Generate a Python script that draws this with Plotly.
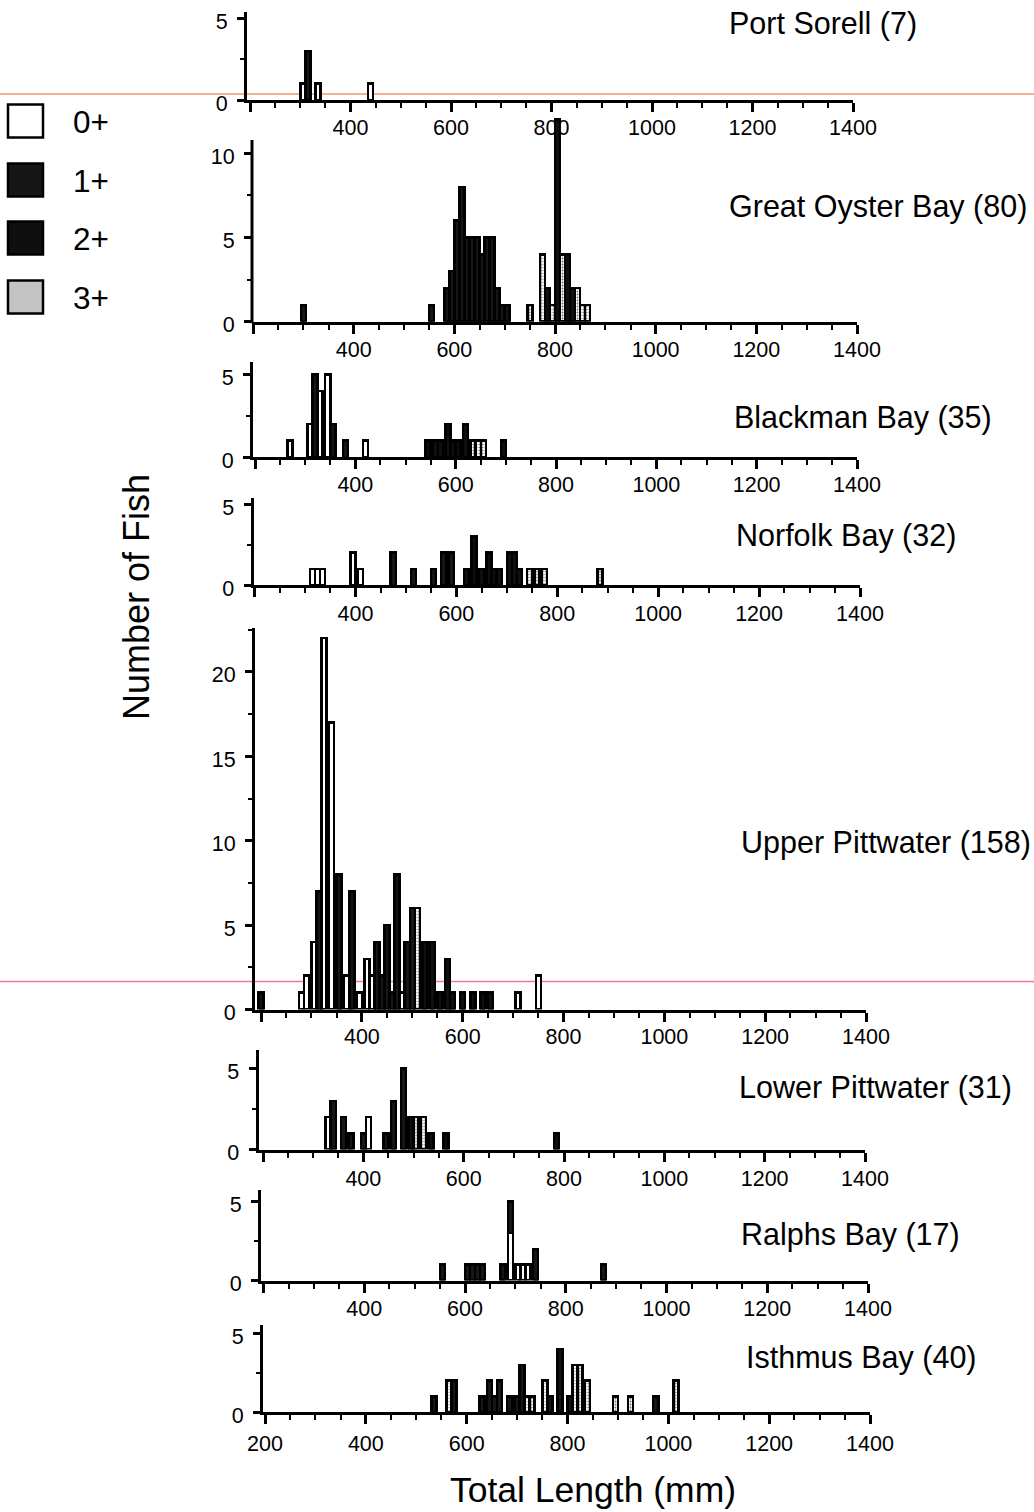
import plotly.graph_objects as go

W, H = 1034, 1512

# ---------------- data (bin centre in mm, number of fish) ----------------
# Port Sorell
ps_len_0 = [305, 335, 440]
ps_n_0 = [1, 1, 1]
ps_len_1 = [315]
ps_n_1 = [3]

# Great Oyster Bay
gob_len_1 = [300, 555, 585, 595, 605, 615, 625, 635, 645, 655, 665, 675, 685, 695, 705]
gob_n_1 = [1, 1, 2, 3, 6, 8, 5, 5, 5, 4, 5, 5, 2, 1, 1]
gob_len_2 = [785, 805, 825, 835]
gob_n_2 = [2, 12, 4, 2]
gob_len_3 = [750, 775, 795, 815, 845, 855, 865]
gob_n_3 = [1, 4, 1, 4, 2, 1, 1]

# Blackman Bay
bb_len_0 = [270, 310, 330, 345, 420]
bb_n_0 = [1, 2, 4, 5, 1]
bb_len_1 = [320, 355, 380]
bb_n_1 = [5, 2, 1]
bb_len_2 = [545, 560, 570, 585, 595, 605, 620, 695]
bb_n_2 = [1, 1, 1, 2, 1, 1, 2, 1]
bb_len_3 = [635, 645, 655]
bb_n_3 = [1, 1, 1]

# Norfolk Bay
nb_len_0 = [315, 325, 335, 395, 410]
nb_n_0 = [1, 1, 1, 2, 1]
nb_len_1 = [475, 515, 555, 575, 590]
nb_n_1 = [2, 1, 1, 2, 2]
nb_len_2 = [620, 635, 650, 665, 675, 685, 705, 715, 725]
nb_n_2 = [1, 3, 1, 2, 1, 1, 2, 2, 1]
nb_len_3 = [745, 760, 775, 885]
nb_n_3 = [1, 1, 1, 1]

# Upper Pittwater
up_len_0 = [280, 290, 305, 325, 340, 370, 395, 410, 420, 480, 710, 750]
up_n_0 = [1, 2, 4, 22, 17, 2, 1, 3, 2, 1, 1, 2]
up_len_1 = [200, 315, 355, 380, 430, 440, 450, 460, 470, 490, 500]
up_n_1 = [1, 7, 8, 7, 4, 2, 5, 1, 8, 4, 6]
up_len_2 = [525, 540, 555, 570, 580, 600, 620, 640, 655]
up_n_2 = [4, 4, 1, 3, 1, 1, 1, 1, 1]
up_len_3 = [510]
up_n_3 = [6]

# Lower Pittwater
lp_len_0 = [330, 410]
lp_n_0 = [2, 2]
lp_len_1 = [340, 360, 375, 400, 445, 460, 480]
lp_n_1 = [3, 2, 1, 1, 1, 3, 5]
lp_len_2 = [495, 535, 565, 785]
lp_n_2 = [2, 1, 1, 1]
lp_len_3 = [505, 520]
lp_n_3 = [2, 2]

# Ralphs Bay
rb_len_0 = [690, 705, 715, 725]
rb_n_0 = [3, 1, 1, 1]
rb_len_1 = [555, 605, 615, 625, 635, 675, 690, 740, 875]
rb_n_1 = [1, 1, 1, 1, 1, 1, 2, 2, 1]

# Isthmus Bay
ib_len_1 = [535, 575, 630, 645, 655, 665, 685, 700, 710, 765, 785, 805, 975]
ib_n_1 = [1, 2, 1, 2, 1, 2, 1, 1, 3, 1, 4, 1, 1]
ib_len_3 = [565, 720, 730, 755, 815, 825, 840, 895, 925, 1015]
ib_n_3 = [2, 1, 1, 2, 3, 3, 2, 1, 1, 2]

age_labels = ["0+", "1+", "2+", "3+"]
x_tick_vals = [200, 400, 600, 800, 1000, 1200, 1400]
site_titles = ["Port Sorell (7)", "Great Oyster Bay (80)", "Blackman Bay (35)",
               "Norfolk Bay (32)", "Upper Pittwater (158)", "Lower Pittwater (31)",
               "Ralphs Bay (17)", "Isthmus Bay (40)"]

EMPTY = ([], [])
panel_data = [
    [(ps_len_0, ps_n_0), (ps_len_1, ps_n_1), EMPTY, EMPTY],
    [EMPTY, (gob_len_1, gob_n_1), (gob_len_2, gob_n_2), (gob_len_3, gob_n_3)],
    [(bb_len_0, bb_n_0), (bb_len_1, bb_n_1), (bb_len_2, bb_n_2), (bb_len_3, bb_n_3)],
    [(nb_len_0, nb_n_0), (nb_len_1, nb_n_1), (nb_len_2, nb_n_2), (nb_len_3, nb_n_3)],
    [(up_len_0, up_n_0), (up_len_1, up_n_1), (up_len_2, up_n_2), (up_len_3, up_n_3)],
    [(lp_len_0, lp_n_0), (lp_len_1, lp_n_1), (lp_len_2, lp_n_2), (lp_len_3, lp_n_3)],
    [(rb_len_0, rb_n_0), (rb_len_1, rb_n_1), EMPTY, EMPTY],
    [EMPTY, (ib_len_1, ib_n_1), EMPTY, (ib_len_3, ib_n_3)],
]

# ---------------- layout geometry (pixels) ----------------
# A: y-axis x, E: x-axis end (1400 mm), x0: mm at y-axis, base: pixel y of 0,
# unit: px per fish, top: top of drawn y-axis line, plot_top: top of plotting area
geom = [
    dict(A=247, E=853, x0=194, base=100, unit=16.4, top=12, yt=[0, 5], tx=730, ty=24, so=-3),
    dict(A=252, E=857, x0=198, base=321.7, unit=16.84, top=140, plot_top=116, yt=[0, 5, 10], tx=730, ty=206, so=-3),
    dict(A=253, E=857, x0=196, base=457, unit=16.5, top=362, yt=[0, 5], tx=735, ty=417, so=-3),
    dict(A=253.5, E=860, x0=198, base=585, unit=16.2, top=498, yt=[0, 5], tx=737, ty=535, so=-2),
    dict(A=255, E=866, x0=188, base=1009.5, unit=16.88, top=628, yt=[0, 5, 10, 15, 20], tx=742, ty=842, so=-3),
    dict(A=258.5, E=865, x0=191, base=1149.5, unit=16.2, top=1050, yt=[0, 5], tx=740, ty=1087, so=-1),
    dict(A=261, E=868, x0=195, base=1280.5, unit=15.8, top=1190, yt=[0, 5], tx=742, ty=1234, so=-2),
    dict(A=263, E=870, x0=196, base=1412, unit=15.7, top=1325, yt=[0, 5], tx=747, ty=1357, so=1),
]

FONT = "Liberation Sans, Arial, Helvetica, sans-serif"
DARK1 = "#161616"
DARK2 = "#0f0f0f"

def style(age):
    if age == 0:
        return dict(color="white", line=dict(color="black", width=2.5))
    if age == 1:
        return dict(color=DARK1, line=dict(color="black", width=2.5))
    if age == 2:
        return dict(color=DARK2, line=dict(color="black", width=2.5))
    return dict(color="white", line=dict(color="black", width=2.5),
                pattern=dict(shape=".", fgcolor="#777777", bgcolor="white", size=3, solidity=0.35))

fig = go.Figure()
layout = dict(template="none", width=W, height=H, autosize=False,
              margin=dict(l=0, r=0, t=0, b=0, pad=0),
              paper_bgcolor="white", plot_bgcolor="rgba(0,0,0,0)",
              barmode="stack", showlegend=False,
              font=dict(family=FONT, color="black"))
annotations = []
shapes = []

for i, (pdata, g) in enumerate(zip(panel_data, geom)):
    k = "" if i == 0 else str(i + 1)
    for age, (lens, ns) in enumerate(pdata):
        if not lens:
            continue
        fig.add_trace(go.Bar(x=lens, y=ns, width=10, marker=style(age),
                             name=age_labels[age], xaxis="x" + k, yaxis="y" + k,
                             hoverinfo="x+y+name"))
    plot_top = g.get("plot_top", g["top"])
    ytop = (g["base"] - plot_top) / g["unit"]
    own_line = "plot_top" in g
    labels = [str(v) if (v != 200 or i == len(geom) - 1) else "" for v in x_tick_vals]
    layout["xaxis" + k] = dict(
        domain=[g["A"] / W, g["E"] / W], range=[g["x0"], 1400], anchor="y" + k,
        automargin=False,
        showline=True, linecolor="black", linewidth=3, showgrid=False, zeroline=False,
        ticks="outside", ticklen=9, tickwidth=2.5, tickcolor="black",
        tickmode="array", tickvals=x_tick_vals, ticktext=labels,
        tickfont=dict(size=21.5, family=FONT, color="black"), ticklabelstandoff=g["so"],
        minor=dict(ticks="outside", ticklen=5, tickwidth=2, tickcolor="black",
                   tickmode="linear", tick0=200, dtick=50, showgrid=False),
    )
    layout["yaxis" + k] = dict(
        domain=[1 - g["base"] / H, 1 - plot_top / H], range=[0, ytop], anchor="x" + k,
        automargin=False,
        showline=not own_line, linecolor="black", linewidth=3, showgrid=False, zeroline=False,
        ticks="outside", ticklen=7, tickwidth=2.5, tickcolor="black",
        tickmode="array", tickvals=g["yt"],
        tickfont=dict(size=21.5, family=FONT, color="black"), ticklabelstandoff=5,
        ticklabelshift=3,
        minor=dict(ticks="outside", ticklen=4, tickwidth=2, tickcolor="black",
                   tickmode="linear", tick0=0, dtick=2.5, showgrid=False),
    )
    if own_line:
        shapes.append(dict(type="line", xref="paper", yref="paper",
                           x0=g["A"] / W, x1=g["A"] / W,
                           y0=1 - (g["base"] + 1.5) / H, y1=1 - g["top"] / H,
                           line=dict(color="black", width=3)))
    annotations.append(dict(text=site_titles[i], xref="paper", yref="paper",
                            x=(g["tx"] - 3) / W, y=1 - g["ty"] / H, xanchor="left", yanchor="middle",
                            showarrow=False, font=dict(size=30.5, family=FONT, color="black")))

annotations.append(dict(text="Number of Fish", xref="paper", yref="paper", x=137 / W, y=1 - 597 / H,
                        textangle=-90, showarrow=False, xanchor="center", yanchor="middle",
                        font=dict(size=36, family=FONT, color="black")))
annotations.append(dict(text="Total Length (mm)", xref="paper", yref="paper", x=593 / W, y=1 - 1490 / H,
                        showarrow=False, xanchor="center", yanchor="middle",
                        font=dict(size=35.5, family=FONT, color="black")))

leg_y = [121, 180, 238, 297]
leg_fill = ["white", DARK1, DARK2, "#c4c4c4"]
for j, lab in enumerate(age_labels):
    yc = leg_y[j]
    shapes.append(dict(type="rect", xref="paper", yref="paper",
                       x0=8 / W, x1=43 / W, y0=1 - (yc + 16.5) / H, y1=1 - (yc - 16.5) / H,
                       fillcolor=leg_fill[j], line=dict(color="black", width=2.5)))
    annotations.append(dict(text=lab, xref="paper", yref="paper", x=71 / W, y=1 - (yc + 1) / H,
                            xanchor="left", yanchor="middle", showarrow=False,
                            font=dict(size=31.5, family=FONT, color="black")))

shapes.append(dict(type="line", xref="paper", yref="paper", x0=0, x1=1, y0=1 - 94 / H, y1=1 - 94 / H,
                   line=dict(color="#f0986c", width=1.5), layer="below"))
shapes.append(dict(type="line", xref="paper", yref="paper", x0=0, x1=1, y0=1 - 981.5 / H, y1=1 - 981.5 / H,
                   line=dict(color="#f07890", width=1.5), layer="below"))

layout["annotations"] = annotations
layout["shapes"] = shapes
fig.update_layout(**layout)

fig.write_html("out.html", config={"displayModeBar": False},
               post_script="document.body.style.margin='0';document.body.style.overflow='hidden';")
